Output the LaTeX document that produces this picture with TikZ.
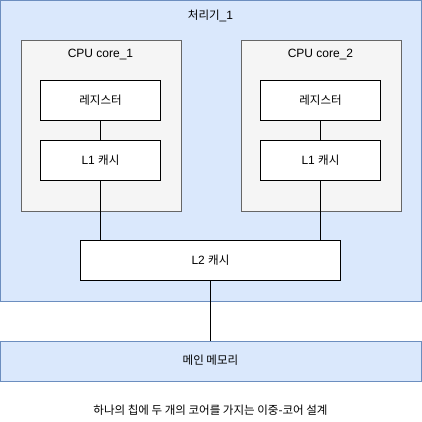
\documentclass[tikz,border=0pt]{standalone}
\usepackage{fontspec}
\setmainfont{Liberation Sans}
\newfontfamily\kr[Scale=0.96]{Noto Sans CJK KR}
\definecolor{procfill}{HTML}{DAE8FC}
\definecolor{procline}{HTML}{6C8EBF}
\definecolor{corefill}{HTML}{F5F5F5}
\definecolor{coreline}{HTML}{666666}

\begin{document}
\begin{tikzpicture}[x=1pt,y=-1pt,font=\fontsize{12}{14}\selectfont,
  procbox/.style={draw=procline, fill=procfill, anchor=north west, inner sep=0pt},
  corebox/.style={draw=coreline, fill=corefill, anchor=north west, inner sep=0pt, minimum width=160pt, minimum height=170pt},
  unitbox/.style={draw=black, fill=white, inner sep=0pt, minimum height=40pt},
  wire/.style={draw=black, line width=1.5pt}]
\useasboundingbox (-0.5,-0.5) rectangle (420.5,421.5);
% processor
\node[procbox, minimum width=420pt, minimum height=300pt] (proc) at (0,0) {};
\node (proctitle) at (210,15) {{\kr 처리기}\_1};
% cores
\node[corebox] (core1) at (20,40) {};
\node[corebox] (core2) at (240,40) {};
\node (core1title) at (100,54) {CPU core\_1};
\node (core2title) at (320,54) {CPU core\_2};
\node[unitbox, minimum width=120pt] (reg1) at (100,100) {\kr 레지스터};
\node[unitbox, minimum width=120pt] (reg2) at (320,100) {\kr 레지스터};
\node[unitbox, minimum width=120pt] (l11) at (100,160) {L1 {\kr 캐시}};
\node[unitbox, minimum width=120pt] (l12) at (320,160) {L1 {\kr 캐시}};
\node[unitbox, minimum width=260pt] (l2) at (210,260) {L2 {\kr 캐시}};
% memory
\node[procbox, minimum width=420pt, minimum height=40pt] (mem) at (0,340) {};
\node (memtext) at (210,360) {\kr 메인 메모리};
\node (caption) at (210,410) {\kr 하나의 칩에 두 개의 코어를 가지는 이중-코어 설계};
% wires
\draw[wire] (reg1) -- (l11);
\draw[wire] (reg2) -- (l12);
\draw[wire] (l11.south) -- (l11.south |- l2.north);
\draw[wire] (l12.south) -- (l12.south |- l2.north);
\draw[wire] (l2) -- (mem.north -| l2.south);
\end{tikzpicture}
\end{document}
